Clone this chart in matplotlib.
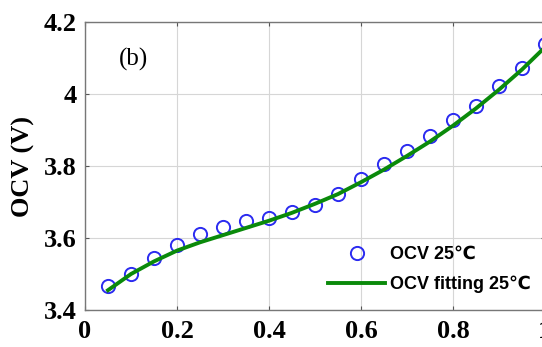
import numpy as np
import matplotlib
matplotlib.use("Agg")
import matplotlib.pyplot as plt

# state of charge and measured open-circuit voltage at 25 C
soc = [0.05, 0.10, 0.15, 0.20, 0.25, 0.30, 0.35, 0.40, 0.45, 0.50,
       0.55, 0.60, 0.65, 0.70, 0.75, 0.80, 0.85, 0.90, 0.95, 1.00]
ocv = [3.466, 3.499, 3.545, 3.581, 3.612, 3.630, 3.646, 3.656, 3.673, 3.692,
       3.721, 3.765, 3.805, 3.841, 3.883, 3.927, 3.967, 4.021, 4.073, 4.138]
# fitted curve evaluated at the same SOC points
ocv_fit = [3.455, 3.500, 3.535, 3.565, 3.588, 3.608, 3.628, 3.648, 3.670, 3.695,
           3.722, 3.755, 3.790, 3.828, 3.868, 3.912, 3.960, 4.012, 4.068, 4.130]

xticks = [0, 0.2, 0.4, 0.6, 0.8, 1]
xticklabels = ["0", "0.2", "0.4", "0.6", "0.8", "1"]
yticks = [3.4, 3.6, 3.8, 4.0, 4.2]
yticklabels = ["3.4", "3.6", "3.8", "4", "4.2"]

serif = "Liberation Serif"
sans = ["Liberation Sans", "DejaVu Sans"]

fig = plt.figure(figsize=(5.42, 3.47), dpi=100)
ax = fig.add_axes([0.1568, 0.1066, 0.8487, 0.830])

ax.plot(soc, ocv, "o", mfc="none", mec="#2b2bf0", mew=1.4, ms=9.5,
        clip_on=False, zorder=3, label="OCV 25℃")
ax.plot(soc, ocv_fit, "-", color="#0a8a0a", lw=2.8, zorder=4,
        label="OCV fitting 25℃")

ax.set_xlim(0, 1)
ax.set_ylim(3.4, 4.2)
ax.set_xticks(xticks)
ax.set_xticklabels(xticklabels, fontfamily=serif, fontweight="bold", fontsize=19)
ax.set_yticks(yticks)
ax.set_yticklabels(yticklabels, fontfamily=serif, fontweight="bold", fontsize=19)
ax.tick_params(direction="in", length=3, width=0.8, color="#555555",
               top=True, right=True)
ax.tick_params(axis="x", pad=7)
ax.tick_params(axis="y", pad=6)

ax.grid(True, color="#d6d6d6", lw=0.8)
ax.set_axisbelow(True)
for s in ax.spines.values():
    s.set_color("#777777")
    s.set_linewidth(1.0)

ax.set_ylabel("OCV (V)", fontfamily=serif, fontweight="bold", fontsize=19,
              labelpad=6)

ax.text(0.106, 0.87, "(b)", transform=ax.transAxes, fontfamily=serif,
        fontsize=18, ha="center", va="center")

leg = ax.legend(loc="lower left", bbox_to_anchor=(0.5, 0.015), frameon=False,
                prop={"family": sans, "weight": "bold", "size": 13},
                handlelength=3.2, handletextpad=0.25, labelspacing=0.7,
                borderpad=0.2)

fig.savefig("out.png", dpi=100)
